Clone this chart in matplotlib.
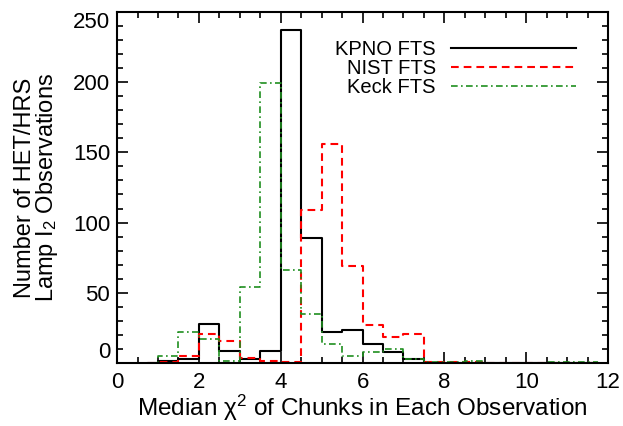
import matplotlib
matplotlib.use("Agg")
import matplotlib.pyplot as plt
import numpy as np

plt.rcParams['font.family'] = ['Liberation Sans', 'DejaVu Sans']
plt.rcParams['mathtext.fontset'] = 'custom'
plt.rcParams['mathtext.rm'] = 'Liberation Sans'
plt.rcParams['mathtext.it'] = 'Liberation Sans'

# median chi^2 bin centres (bin width 0.5)
chi2_bins = [0.75, 1.25, 1.75, 2.25, 2.75, 3.25, 3.75, 4.25, 4.75, 5.25, 5.75, 6.25,
             6.75, 7.25, 7.75, 8.25, 8.75, 9.25, 9.75, 10.25, 10.75, 11.25, 11.75]

kpno_counts = [0, 2, 3, 28, 9, 3, 9, 237, 89, 22, 24, 14,
               8, 3, 0, 0, 0, 0, 0, 0, 0, 0, 0]
nist_counts = [0, 1, 5, 21, 16, 4, 2, 1, 109, 156, 69, 27,
               19, 21, 1, 1, 1, 0, 0, 0, 0, 0, 0]
keck_counts = [0, 5, 22, 17, 2, 54, 199, 66, 35, 14, 5, 8,
               10, 3, 1, 1, 2, 0, 0, 0, 1, 1, 1]

fig = plt.figure(figsize=(6.23, 4.26), dpi=100)
ax = fig.add_axes([0.188, 0.147, 0.788, 0.826])

ax.step(chi2_bins, kpno_counts, where='mid', color='black', lw=1.5, label='KPNO FTS')
ax.step(chi2_bins, nist_counts, where='mid', color='red', lw=1.5,
        ls=(0, (3.7, 2.4)), label='NIST FTS')
ax.step(chi2_bins, keck_counts, where='mid', color='#1f8f1f', lw=1.2,
        ls=(0, (4, 2, 1, 2)), label='Keck FTS')

ax.set_xlim(0, 12)
ax.set_ylim(0, 250)
ax.set_xticks([0, 2, 4, 6, 8, 10, 12])
ax.set_xticks(np.arange(0, 12.01, 0.5), minor=True)
ax.set_yticks([0, 50, 100, 150, 200, 250])
ax.set_yticks(np.arange(0, 251, 10), minor=True)
ax.tick_params(which='both', direction='in', top=True, right=True, width=1.2)
ax.tick_params(which='major', length=8, labelsize=16)
ax.tick_params(axis='x', which='major', pad=6)
ax.tick_params(axis='y', which='major', pad=5)
ax.tick_params(which='minor', length=4)
for s in ax.spines.values():
    s.set_linewidth(1.5)

ylabs = ax.get_yticklabels()
ylabs[0].set_va('bottom')
ylabs[-1].set_va('top')

ax.set_xlabel(r'Median $\mathrm{\chi}^2$ of Chunks in Each Observation', fontsize=17.5, labelpad=0)
ax.set_ylabel('Number of HET/HRS\nLamp I$_2$ Observations', fontsize=17,
              linespacing=0.9, labelpad=9)

ax.legend(loc='upper right', frameon=False, markerfirst=False, fontsize=14.5,
          handlelength=6.2, handletextpad=0.75, labelspacing=0.0,
          borderaxespad=0, bbox_to_anchor=(0.951, 0.942))

fig.savefig('out.png', dpi=100)
